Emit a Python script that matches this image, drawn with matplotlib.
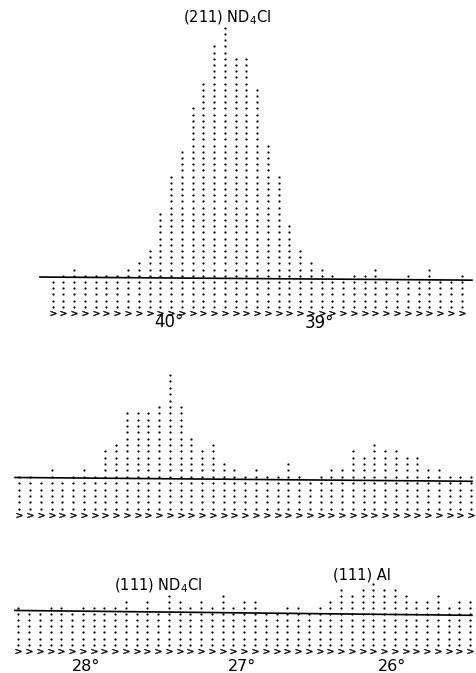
import matplotlib
matplotlib.use("Agg")
import matplotlib.pyplot as plt
import numpy as np

plt.rcParams['font.family'] = ['DejaVu Sans']
plt.rcParams['mathtext.default'] = 'regular'

# dot counts per column (row 0 is the ">" row)
top_counts = [5, 6, 7, 6, 6, 6, 6, 7, 8, 10, 16, 22, 26, 33, 37, 43, 46, 41, 41, 36,
              27, 22, 14, 10, 8, 7, 6, 5, 6, 6, 7, 5, 5, 6, 5, 7, 5, 5, 6]
mid_counts = [6, 6, 5, 7, 5, 6, 7, 6, 10, 11, 16, 16, 16, 17, 22, 17, 12, 10, 11, 8,
              7, 6, 7, 6, 6, 8, 6, 5, 6, 7, 7, 10, 9, 11, 10, 10, 9, 9, 7, 7,
              6, 6, 6]
bot_counts = [7, 6, 6, 7, 7, 6, 7, 7, 7, 7, 8, 6, 8, 6, 9, 8, 7, 8, 7, 9,
              7, 8, 8, 6, 6, 7, 7, 6, 7, 8, 10, 9, 10, 11, 10, 10, 9, 8, 8, 9,
              7, 8, 8]

top_labels = ["(211) ND$_4$Cl", "40°", "39°"]
bot_labels = ["(111) ND$_4$Cl", "(111) Al", "28°", "27°", "26°"]

W, H = 477, 673
fig = plt.figure(figsize=(W / 100, H / 100), dpi=100)
colw = 10.76

# panel: (pixel top, pixel bottom, first column x px, ">" row y px, row pitch px, baseline rows l/r)
panels = [
    (top_counts, 0, 340, 52.7, 313.0, 6.2, (5.8, 5.3), 40),
    (mid_counts, 340, 545, 19.3, 515.0, 6.36, (5.9, 5.3), 15),
    (bot_counts, 545, 673, 18.3, 650.7, 6.1, (6.6, 5.8), 15),
]

for counts, ptop, pbot, x0px, basepx, pitch, line_y, linex0 in panels:
    ax = fig.add_axes([0, 1 - pbot / H, 1, (pbot - ptop) / H])
    x0 = 1 - x0px / colw
    ax.set_xlim(x0, x0 + W / colw)
    ax.set_ylim(-(pbot - basepx) / pitch, (basepx - ptop) / pitch)
    ax.axis('off')
    for i, n in enumerate(counts):
        ys = np.arange(1, n + 1)
        ax.plot(np.full(n, i + 1), ys, 'o', color='black', ms=1.6, mew=0)
        ax.plot([i + 1], [0], marker='$>$', color='black', ms=4.2, mew=0.3, ls='none')
    lx0 = x0 + linex0 / colw
    lx1 = x0 + 472 / colw
    ax.plot([lx0, lx1], list(line_y), color='black', lw=1.2)

def ftext(xp, yp, s, size, va='center'):
    fig.text(xp / W, 1 - yp / H, s, fontsize=size, ha='center', va=va, color='black')

ftext(227, 18, top_labels[0], 10.5)
ftext(169, 322, top_labels[1], 12)
ftext(319, 323, top_labels[2], 12)

ftext(158, 586, bot_labels[0], 10.5)
ftext(362, 575, bot_labels[1], 10.5)
ftext(86, 671, bot_labels[2], 11.5, va='baseline')
ftext(242, 671, bot_labels[3], 11.5, va='baseline')
ftext(392, 671, bot_labels[4], 11.5, va='baseline')

fig.savefig("out.png", dpi=100, facecolor='white')
